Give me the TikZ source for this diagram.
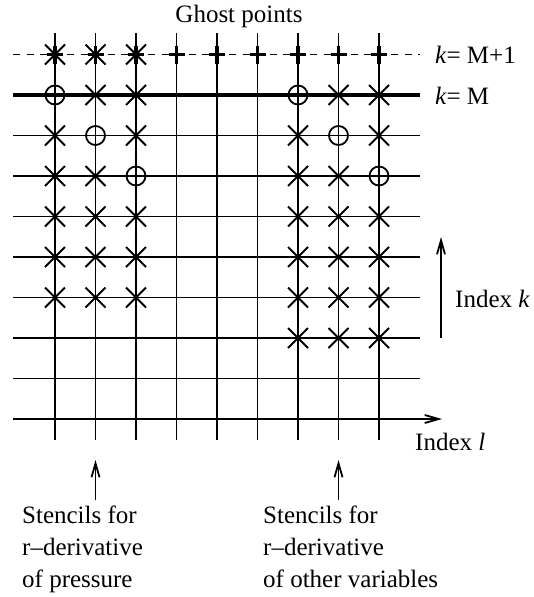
\documentclass[tikz,border=0pt]{standalone}
\usepackage{fontspec}
\setmainfont{Liberation Serif}
\usetikzlibrary{arrows.meta}
\begin{document}
\begin{tikzpicture}[x=1pt,y=-1pt,
  gridline/.style={line width=1.8pt},
  thickline/.style={line width=4.5pt},
  ghostline/.style={line width=1.8pt, dash pattern=on 7pt off 6.5pt},
  arr/.style={line width=1.8pt, -{Straight Barb[length=14pt,width=8pt]}},
  lbl/.style={inner sep=0pt, anchor=base west, font=\fontsize{25}{32}\selectfont},
  xmark/.pic={\draw[line width=1.8pt] (-10,-10) -- (10,10) (-10,10) -- (10,-10);},
  omark/.pic={\draw[line width=1.8pt] (0,0) circle[radius=9.5pt];},
  gmark/.pic={\draw[line width=3.2pt] (-8,0) -- (8,0) (0,-9) -- (0,9);}
]
\useasboundingbox (0,0) rectangle (533,597);
% vertical grid lines
\foreach \i in {0,...,8}
  \draw[gridline] ({55+40.5*\i},33) -- ({55+40.5*\i},440);
% horizontal grid lines
\draw[ghostline] (13,54.5) -- (420,54.5);
\draw[thickline] (13,95) -- (420,95);
\foreach \j in {2,...,8}
  \draw[gridline] (13,{54.5+40.5*\j}) -- (420,{54.5+40.5*\j});
\coordinate (lstart) at (13,419);
\coordinate (lend) at (442,419);
\draw[arr] (lstart) -- (lend);
% ghost row markers
\foreach \i in {0,1,2}
  \pic at ({55+40.5*\i},54.5) {xmark};
\foreach \i in {0,...,8}
  \pic at ({55+40.5*\i},54.5) {gmark};
% row k=M
\foreach \i in {0,6} \pic at ({55+40.5*\i},95) {omark};
\foreach \i in {1,2,7,8} \pic at ({55+40.5*\i},95) {xmark};
% row 2
\foreach \i in {1,7} \pic at ({55+40.5*\i},135.5) {omark};
\foreach \i in {0,2,6,8} \pic at ({55+40.5*\i},135.5) {xmark};
% row 3
\foreach \i in {2,8} \pic at ({55+40.5*\i},176) {omark};
\foreach \i in {0,1,6,7} \pic at ({55+40.5*\i},176) {xmark};
% rows 4-6
\foreach \j in {4,5,6}
  \foreach \i in {0,1,2,6,7,8}
    \pic at ({55+40.5*\i},{54.5+40.5*\j}) {xmark};
% row 7
\foreach \i in {6,7,8} \pic at ({55+40.5*\i},338) {xmark};
% index k arrow
\coordinate (kstart) at (441,338);
\coordinate (kend) at (441,237);
\draw[arr] (kstart) -- (kend);
% stencil arrows
\coordinate (pa) at (95.5,500);
\coordinate (pb) at (95.5,460);
\coordinate (oa) at (338.5,500);
\coordinate (ob) at (338.5,460);
\draw[arr] (pa) -- (pb);
\draw[arr] (oa) -- (ob);
% labels
\node[lbl, anchor=base] (ghost) at (239,22) {Ghost points};
\node[lbl] (kM1) at (435,63.5) {\textit{k}= M+1};
\node[lbl] (kM) at (435,104) {\textit{k}= M};
\node[lbl] (idxk) at (455,307) {Index \textit{k}};
\node[lbl] (idxl) at (415,450) {Index \textit{l}};
\node[lbl] (s1a) at (22,523) {Stencils for};
\node[lbl] (s1b) at (22,555) {r\textendash derivative};
\node[lbl] (s1c) at (22,587) {of pressure};
\node[lbl] (s2a) at (263,523) {Stencils for};
\node[lbl] (s2b) at (263,555) {r\textendash derivative};
\node[lbl] (s2c) at (263,587) {of other variables};
\end{tikzpicture}
\end{document}
